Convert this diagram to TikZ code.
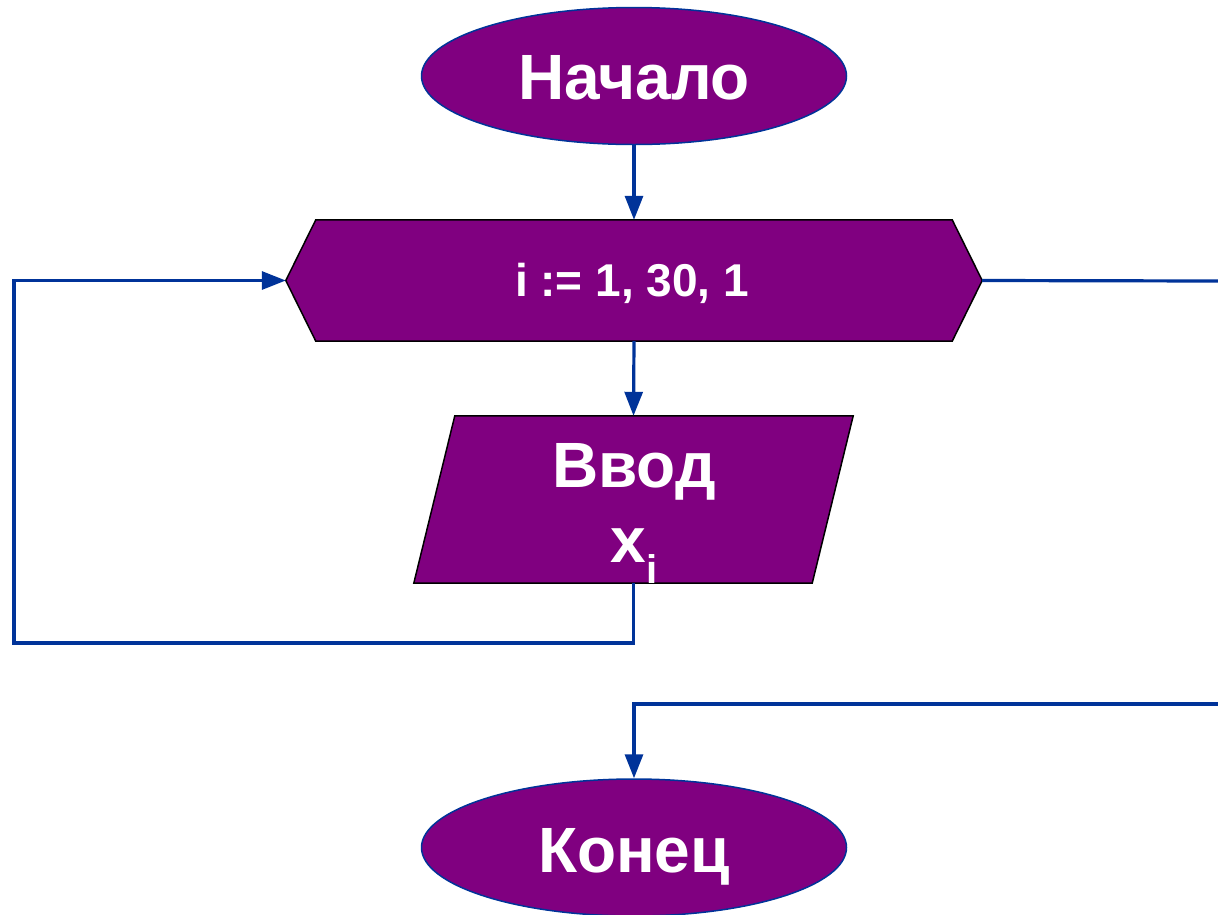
\documentclass[tikz,border=0pt]{standalone}
\usepackage{fontspec}
\setmainfont{Liberation Sans}
\usetikzlibrary{shapes.geometric,arrows.meta}
\definecolor{pur}{HTML}{800080}
\definecolor{ln}{HTML}{003399}
\begin{document}
\begin{tikzpicture}[x=1pt,y=-1pt,
 conn/.style={draw=ln,line width=3.2pt},
 arr/.style={conn,-{Triangle[length=24pt,width=18pt]}},
 term/.style={ellipse,fill=pur,draw=ln,line width=1.5pt,minimum width=425pt,minimum height=137pt,inner sep=0pt},
 ghost/.style={rectangle,inner sep=0pt},
 blockfill/.style={fill=pur,draw=black,line width=1.5pt},
 wtext/.style={text=white,font=\bfseries\fontsize{64}{70}\selectfont,inner sep=0pt}]
\useasboundingbox (0,0) rectangle (1218,914);
\node[term] (start) at (634,76) {};
\node[wtext,anchor=base] (starttext) at (634,99) {Начало};
\node[term] (end) at (634,847.5) {};
\node[wtext,anchor=base] (endtext) at (634,872) {Конец};
% hexagon
\node[ghost,minimum width=696pt,minimum height=121pt] (loopbox) at (634,280.5) {};
\path[blockfill] (loopbox.west) -- ([xshift=30pt]loopbox.north west) -- ([xshift=-30pt]loopbox.north east) -- (loopbox.east) -- ([xshift=-30pt]loopbox.south east) -- ([xshift=30pt]loopbox.south west) -- cycle;
\node[wtext,font=\bfseries\fontsize{46}{50}\selectfont] (looptext) at (632,283) {i := 1, 30, 1};
% parallelogram
\node[ghost,minimum width=439pt,minimum height=167pt] (inbox) at (633.5,499.5) {};
\path[blockfill] ([xshift=41pt]inbox.north west) -- (inbox.north east) -- ([xshift=-41pt]inbox.south east) -- (inbox.south west) -- cycle;
\node[wtext,anchor=base] (intext1) at (634,487) {Ввод};
\node[wtext,anchor=base] (intext2) at (634,562) {x\raisebox{-21pt}{\fontsize{40}{40}\selectfont i}};
% connectors
\coordinate (lb) at (14,643);
\coordinate (r1) at (1218,281);
\coordinate (r2) at (1218,704);
\draw[arr] (start.south) -- (loopbox.north);
\draw[arr] (loopbox.south) -- (inbox.north);
\draw[arr] (inbox.south) |- (lb) |- (loopbox.west);
\draw[conn] (loopbox.east) -- (r1);
\draw[arr] (r2) -| (end.north);
\end{tikzpicture}
\end{document}
